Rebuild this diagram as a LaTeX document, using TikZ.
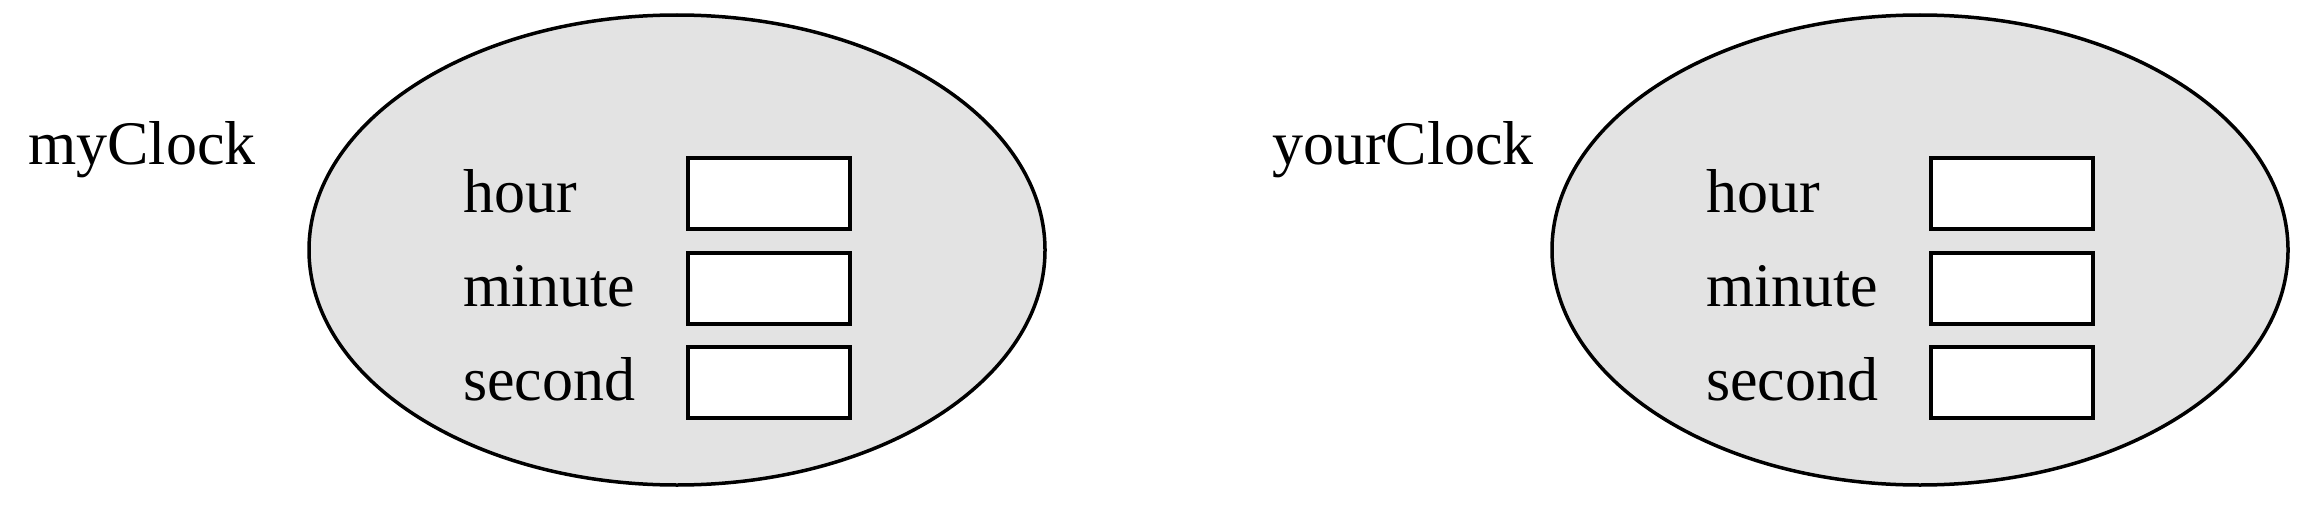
\documentclass[tikz,border=0pt]{standalone}
\usepackage{fontspec}
\setmainfont{Liberation Serif}
\usetikzlibrary{shapes.geometric}
\definecolor{objfill}{HTML}{E3E3E3}
\tikzset{
  objoval/.style={ellipse, draw=black, line width=3.5pt, fill=objfill, minimum width=736pt, minimum height=470pt, inner sep=0pt},
  slotbox/.style={rectangle, draw=black, line width=4pt, fill=white, minimum width=162pt, minimum height=71pt, inner sep=0pt},
  lbl/.style={anchor=base west, inner sep=0pt, font=\fontsize{62}{74}\selectfont}
}
\begin{document}
\begin{tikzpicture}[x=1pt,y=-1pt]
\useasboundingbox (0,0) rectangle (2316,511);
% left object
\node[objoval] (o1) at (677,250) {};
\node[lbl] (n1) at (28,164) {myClock};
\node[slotbox] (h1) at (769,193.5) {};
\node[slotbox] (m1) at (769,288.5) {};
\node[slotbox] (s1) at (769,382.5) {};
\node[lbl] (th1) at (463,212) {hour};
\node[lbl] (tm1) at (463,306) {minute};
\node[lbl] (ts1) at (463,400) {second};
% right object
\node[objoval] (o2) at (1920,250) {};
\node[lbl] (n2) at (1272,164) {yourClock};
\node[slotbox] (h2) at (2012,193.5) {};
\node[slotbox] (m2) at (2012,288.5) {};
\node[slotbox] (s2) at (2012,382.5) {};
\node[lbl] (th2) at (1706,212) {hour};
\node[lbl] (tm2) at (1706,306) {minute};
\node[lbl] (ts2) at (1706,400) {second};
\end{tikzpicture}
\end{document}
